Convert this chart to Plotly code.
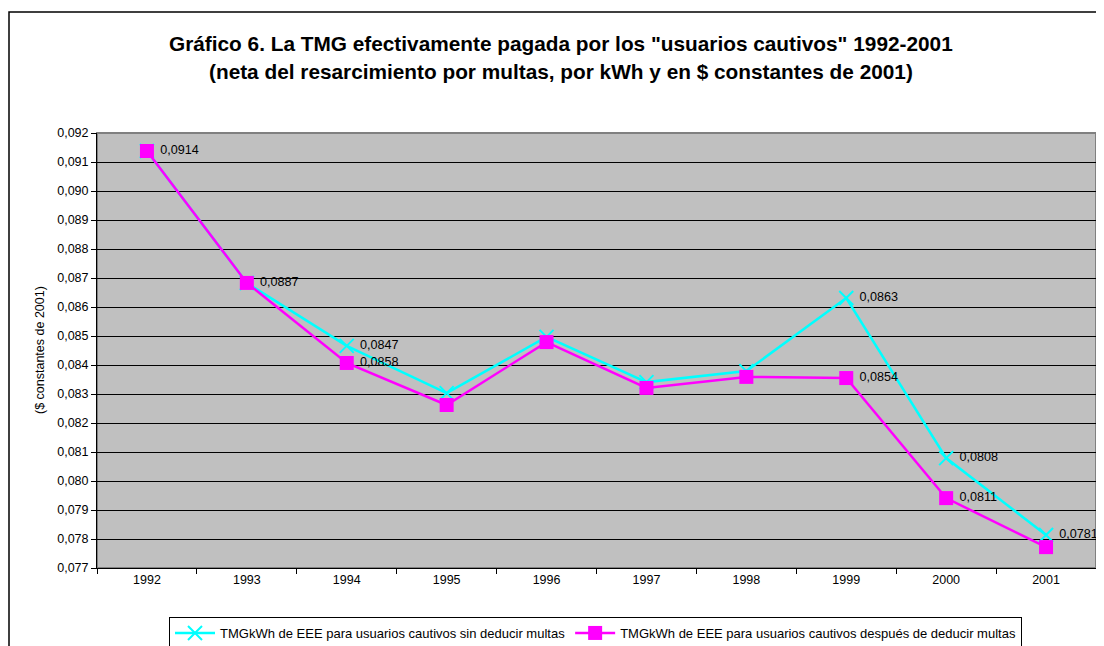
import plotly.graph_objects as go

years = ["1992", "1993", "1994", "1995", "1996", "1997", "1998", "1999", "2000", "2001"]
sin_deducir = [0.09138, 0.08683, 0.08466, 0.08303, 0.08497, 0.08341, 0.08379, 0.08631, 0.08079, 0.07814]
despues_deducir = [0.09138, 0.08683, 0.08407, 0.08262, 0.08479, 0.08321, 0.08359, 0.08355, 0.07941, 0.07772]
labels_sin = ["", "", "0,0847", "", "", "", "", "0,0863", "0,0808", "0,0781"]
labels_despues = ["0,0914", "0,0887", "0,0858", "", "", "", "", "0,0854", "0,0811", ""]
name_sin = "TMGkWh de EEE para usuarios cautivos sin deducir multas"
name_despues = "TMGkWh de EEE para usuarios cautivos después de deducir multas"
title1 = "Gráfico 6. La TMG efectivamente pagada por los \"usuarios cautivos\" 1992-2001"
title2 = "(neta del resarcimiento por multas, por kWh y en $ constantes de 2001)"
ytitle = "($ constantes de 2001)"

FONT = "Liberation Sans, Arial, sans-serif"
OFF = 8  # default page body margin
PAD = "\u00a0"

def padded(labels):
    return [PAD + s if s else "" for s in labels]

fig = go.Figure()
fig.add_trace(go.Scatter(
    x=years, y=sin_deducir, name=name_sin, mode="lines+markers+text",
    line=dict(color="#00FFFF", width=2.5),
    marker=dict(symbol="x-thin", size=14, line=dict(color="#00FFFF", width=2)),
    text=padded(labels_sin), textposition="middle right",
    textfont=dict(family=FONT, size=12.6, color="black"), cliponaxis=False,
))
fig.add_trace(go.Scatter(
    x=years, y=despues_deducir, name=name_despues, mode="lines+markers+text",
    line=dict(color="#FF00FF", width=2.5),
    marker=dict(symbol="square", size=14, color="#FF00FF"),
    text=padded(labels_despues), textposition="middle right",
    textfont=dict(family=FONT, size=12.6, color="black"), cliponaxis=False,
))

W, H = 1096, 638
L, T = 97 - OFF, 133 - OFF
PW, PH = 999, 435
R = W - L - PW
B = H - T - PH

def py(p):
    return (T + PH - (p - OFF)) / PH

def px(p):
    return ((p - OFF) - L) / PW

fig.update_layout(
    width=W, height=H,
    margin=dict(l=L, r=R, t=T, b=B, autoexpand=False),
    paper_bgcolor="white", plot_bgcolor="#C0C0C0",
    separators=", ",
    font=dict(family=FONT, size=12.5, color="black"),
    showlegend=True,
    legend=dict(orientation="h", x=px(595.5), xanchor="center", y=py(617), yanchor="top",
                bordercolor="black", borderwidth=1, bgcolor="white",
                font=dict(family=FONT, size=13, color="black"),
                itemwidth=40, tracegroupgap=0),
    xaxis=dict(type="category", tickson="boundaries", ticks="outside", ticklen=5,
               tickcolor="black", showline=True, linecolor="black", linewidth=1,
               showgrid=False, tickfont=dict(size=12.5), range=[-0.5, 9.5]),
    yaxis=dict(range=[0.077, 0.092], dtick=0.001, tickformat=".3f", ticks="outside",
               ticklen=5, tickcolor="black", showline=True, linecolor="black", linewidth=1,
               showgrid=True, gridcolor="black", gridwidth=1, zeroline=False,
               tickfont=dict(size=12.5)),
    annotations=[
        dict(text="<b>" + title1 + "</b>", xref="paper", yref="paper", x=px(561), y=py(43),
             xanchor="center", yanchor="middle", showarrow=False,
             font=dict(family=FONT, size=20.8, color="black")),
        dict(text="<b>" + title2 + "</b>", xref="paper", yref="paper", x=px(561), y=py(71),
             xanchor="center", yanchor="middle", showarrow=False,
             font=dict(family=FONT, size=20.8, color="black")),
        dict(text=ytitle, xref="paper", yref="paper", x=px(40), y=py(350),
             xanchor="center", yanchor="middle", textangle=-90, showarrow=False,
             font=dict(family=FONT, size=12.5, color="black")),
    ],
    shapes=[
        dict(type="rect", xref="paper", yref="paper", x0=0, x1=1, y0=0, y1=1,
             line=dict(color="#808080", width=2), layer="below", fillcolor="rgba(0,0,0,0)"),
        dict(type="rect", xref="paper", yref="paper", x0=px(9), x1=px(1130), y0=py(12), y1=py(680),
             line=dict(color="black", width=1.5), fillcolor="rgba(0,0,0,0)"),
    ],
)

fig.write_html("out.html")
